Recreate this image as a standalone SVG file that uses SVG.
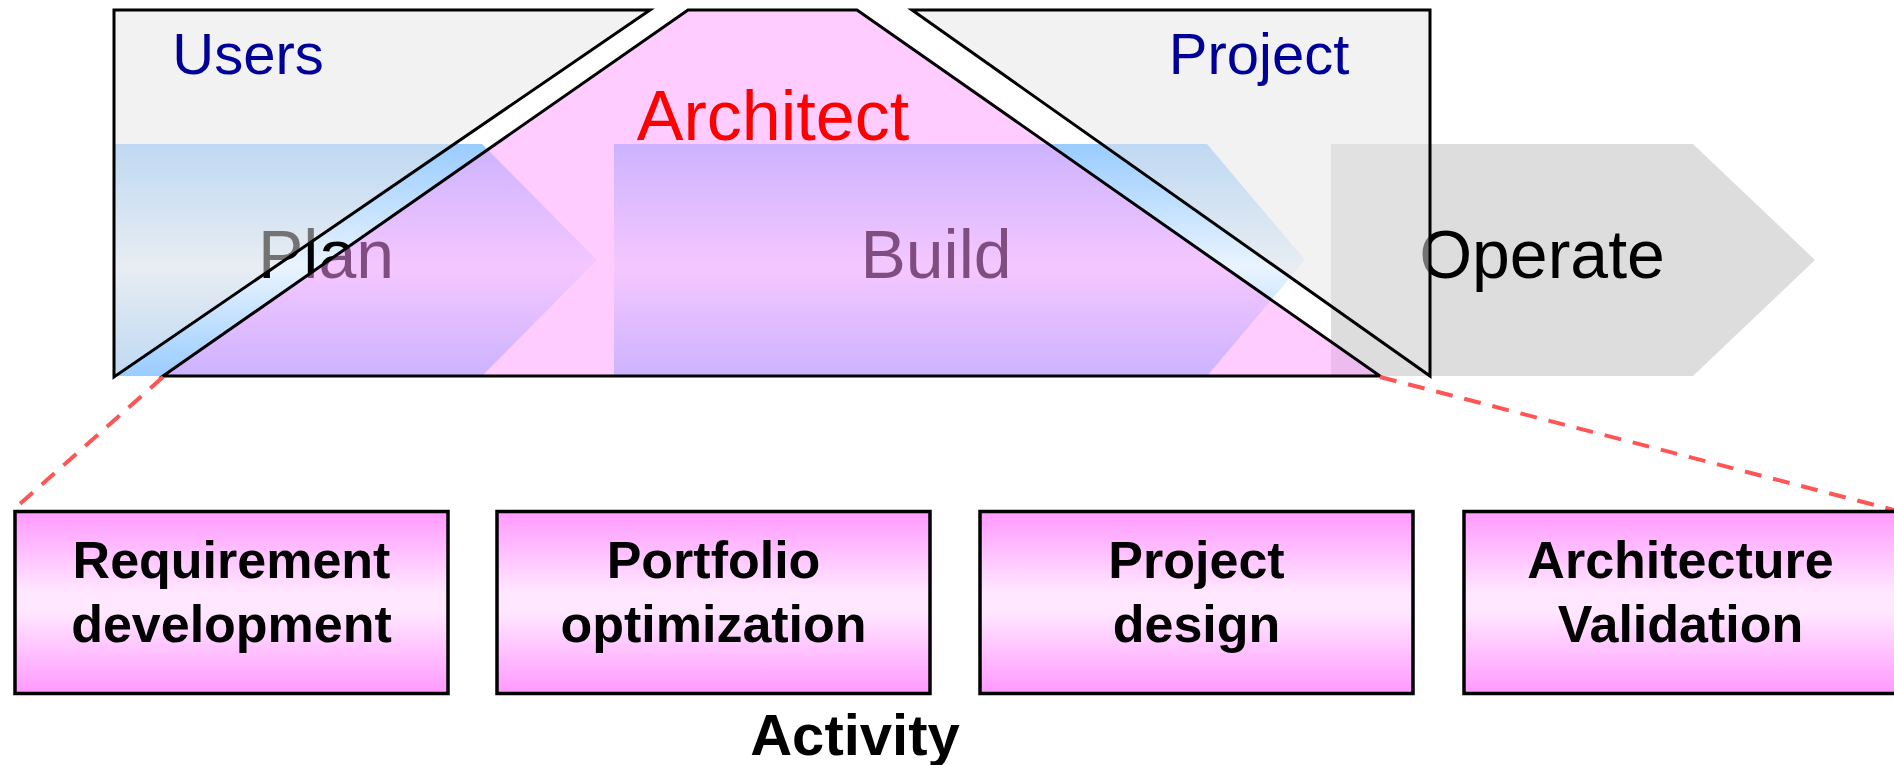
<svg xmlns="http://www.w3.org/2000/svg" width="1894" height="765" viewBox="0 0 1894 765">
  <style>
    .phase { font-family: "Liberation Sans", Arial, sans-serif; font-size: 68px; fill: #000000; text-anchor: middle; }
    .role { font-family: "Liberation Sans", Arial, sans-serif; font-size: 58px; fill: #000099; text-anchor: middle; }
    .arch { font-family: "Liberation Sans", Arial, sans-serif; font-size: 70px; fill: #ff0000; text-anchor: middle; }
    .box { fill: url(#boxGrad); stroke: #000000; stroke-width: 3.5; }
    .boxtext { font-family: "Liberation Sans", Arial, sans-serif; font-size: 52px; font-weight: bold; fill: #000000; text-anchor: middle; }
    .overlay { stroke: #000000; stroke-width: 3; stroke-linejoin: miter; }
    .gray { fill: #e5e5e5; fill-opacity: 0.5; }
    .pink { fill: #ff99ff; fill-opacity: 0.5; }
    .dash { stroke: #ff5555; stroke-width: 4; stroke-dasharray: 17 12; fill: none; }
  </style>
  <defs>
    <linearGradient id="arrowGrad" x1="0" y1="0" x2="0" y2="1">
      <stop offset="0" stop-color="#99ccff"/>
      <stop offset="0.53" stop-color="#eaf4ff"/>
      <stop offset="1" stop-color="#99ccff"/>
    </linearGradient>
    <linearGradient id="boxGrad" x1="0" y1="0" x2="0" y2="1">
      <stop offset="0" stop-color="#ff99ff"/>
      <stop offset="0.45" stop-color="#ffe8ff"/>
      <stop offset="0.55" stop-color="#ffe8ff"/>
      <stop offset="1" stop-color="#ff99ff"/>
    </linearGradient>
  </defs>

  <rect x="0" y="0" width="1894" height="765" fill="#ffffff"/>

  <g id="plan">
    <polygon points="114,144 482,144 597,260 482,376 114,376" fill="url(#arrowGrad)"/>
    <text class="phase" x="326" y="278">Plan</text>
  </g>
  <g id="build">
    <polygon points="614,144 1207,144 1305,260 1207,376 614,376" fill="url(#arrowGrad)"/>
    <text class="phase" x="936" y="278">Build</text>
  </g>
  <g id="operate">
    <polygon points="1331,144 1693,144 1815,260 1693,376 1331,376" fill="#dddddd"/>
    <text class="phase" x="1542" y="278">Operate</text>
  </g>

  <g id="users">
    <polygon class="overlay gray" points="114,10 650,10 114,377"/>
    <text class="role" x="248" y="74">Users</text>
  </g>
  <g id="architect">
    <polygon class="overlay pink" points="688,10 857,10 1380,376 163,376"/>
    <text class="arch" x="773" y="140">Architect</text>
  </g>
  <g id="project">
    <polygon class="overlay gray" points="912,10 1430,10 1430,376"/>
    <text class="role" x="1259" y="74">Project</text>
  </g>

  <g id="connectors">
    <line class="dash" x1="163" y1="377" x2="13" y2="510"/>
    <line class="dash" x1="1380" y1="377" x2="1894" y2="510"/>
  </g>

  <g id="requirement-development">
    <rect class="box" x="15" y="511.5" width="433" height="182"/>
    <text class="boxtext" x="231.5" y="578">Requirement</text>
    <text class="boxtext" x="231.5" y="642">development</text>
  </g>
  <g id="portfolio-optimization">
    <rect class="box" x="497" y="511.5" width="433" height="182"/>
    <text class="boxtext" x="713.5" y="578">Portfolio</text>
    <text class="boxtext" x="713.5" y="642">optimization</text>
  </g>
  <g id="project-design">
    <rect class="box" x="980" y="511.5" width="433" height="182"/>
    <text class="boxtext" x="1196.5" y="578">Project</text>
    <text class="boxtext" x="1196.5" y="642">design</text>
  </g>
  <g id="architecture-validation">
    <rect class="box" x="1464" y="511.5" width="433" height="182"/>
    <text class="boxtext" x="1680.5" y="578">Architecture</text>
    <text class="boxtext" x="1680.5" y="642">Validation</text>
  </g>

  <g id="activity-label">
    <text class="boxtext" x="855" y="755" style="font-size:58px">Activity</text>
  </g>
</svg>
